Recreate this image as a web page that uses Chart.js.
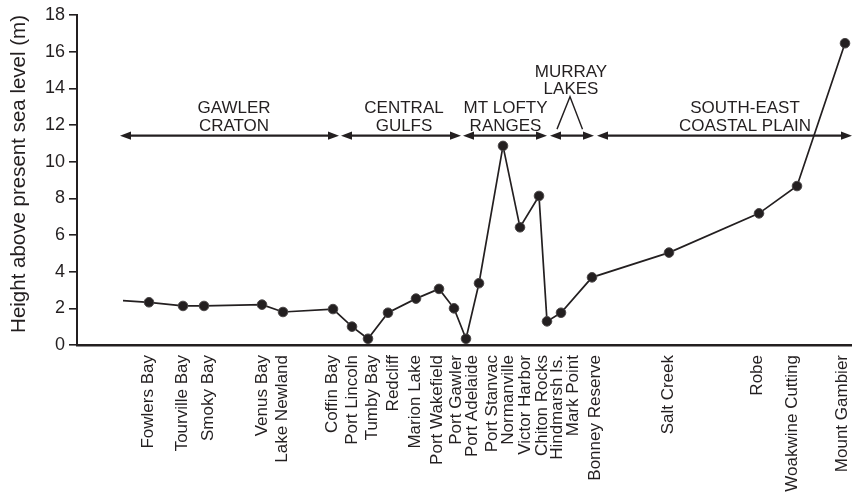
<!DOCTYPE html>
<html>
<head>
<meta charset="utf-8">
<script src="https://cdn.jsdelivr.net/npm/chart.js@4"></script>
<style>
  html, body { margin: 0; padding: 0; background: #fff; }
</style>
</head>
<body>
<canvas id="chart" width="852" height="492"></canvas>
<script>
// Stations along the coast, west to east (x = distance along the profile, arbitrary units)
const stations = [
    'Fowlers Bay', 'Tourville Bay', 'Smoky Bay', 'Venus Bay', 'Lake Newland',
    'Coffin Bay', 'Port Lincoln', 'Tumby Bay', 'Redcliff', 'Marion Lake',
    'Port Wakefield', 'Port Gawler', 'Port Adelaide', 'Port Stanvac', 'Normanville',
    'Victor Harbor', 'Chiton Rocks', 'Hindmarsh Is.', 'Mark Point', 'Bonney Reserve',
    'Salt Creek', 'Robe', 'Woakwine Cutting', 'Mount Gambier'
];
// where each station name sits on the axis
const labelX = [71, 105, 131, 185, 205, 255, 275, 295, 316, 338, 360, 379, 395, 415, 431, 448, 465, 480, 496, 518, 591, 680, 715, 765];

// profile points (first one is the unlabelled start of the trace)
const pointX = [46, 72, 106, 127, 185, 206, 256, 275, 291, 311, 339, 362, 377, 389, 402, 426, 443, 462, 470, 484, 515, 592, 682, 720, 768];
const heights = [2.42, 2.33, 2.13, 2.13, 2.2, 1.8, 1.96, 1.0, 0.34, 1.76, 2.53, 3.06, 2.0, 0.34, 3.37, 10.86, 6.42, 8.13, 1.29, 1.76, 3.69, 5.04, 7.18, 8.67, 16.46];

// geological regions shown as arrows
const regionNames = [['GAWLER', 'CRATON'], ['CENTRAL', 'GULFS'], ['MT LOFTY', 'RANGES'], ['MURRAY', 'LAKES'], ['SOUTH-EAST', 'COASTAL PLAIN']];
const regionStart = [43, 264, 386, 473, 520];
const regionEnd = [262, 384, 470, 517, 775];
const regionLabelX = [157, 327, 428.5, 494, 668];
const arrowLevel = 11.42;

const ink = '#231f20';
const family = '"Liberation Sans", Arial, Helvetica, sans-serif';

function arrowHead(ctx, x, y, dir) {
    ctx.beginPath();
    ctx.moveTo(x, y);
    ctx.lineTo(x - dir * 11, y - 4.2);
    ctx.lineTo(x - dir * 11, y + 4.2);
    ctx.closePath();
    ctx.fill();
}

const regionPlugin = {
    id: 'regions',
    afterDatasetsDraw(chart) {
        const { ctx, scales: { x, y } } = chart;
        const py = y.getPixelForValue(arrowLevel);
        ctx.save();
        ctx.strokeStyle = ink;
        ctx.fillStyle = ink;
        ctx.lineWidth = 2.2;
        ctx.font = '17px ' + family;
        ctx.textAlign = 'center';
        ctx.textBaseline = 'alphabetic';

        regionNames.forEach((lines, i) => {
            const x0 = x.getPixelForValue(regionStart[i]);
            const x1 = x.getPixelForValue(regionEnd[i]);
            ctx.beginPath();
            ctx.moveTo(x0 + 5, py);
            ctx.lineTo(x1 - 5, py);
            ctx.stroke();
            arrowHead(ctx, x0, py, -1);
            arrowHead(ctx, x1, py, 1);

            const cx = x.getPixelForValue(regionLabelX[i]);
            if (i === 3) {
                // small lake region: label sits higher with a caret pointer
                ctx.fillText(lines[0], cx, py - 59);
                ctx.fillText(lines[1], cx, py - 41.5);
                ctx.lineWidth = 1.4;
                ctx.beginPath();
                ctx.moveTo(cx - 14, py - 6.5);
                ctx.lineTo(cx - 1, py - 39);
                ctx.lineTo(cx + 11.5, py - 6.5);
                ctx.stroke();
                ctx.lineWidth = 2.2;
            } else {
                ctx.fillText(lines[0], cx, py - 22.5);
                ctx.fillText(lines[1], cx, py - 4.5);
            }
        });
        ctx.restore();
    }
};

new Chart(document.getElementById('chart'), {
    type: 'line',
    data: {
        datasets: [{
            data: pointX.map((px, i) => ({ x: px, y: heights[i] })),
            borderColor: ink,
            borderWidth: 1.7,
            tension: 0,
            fill: false,
            clip: false,
            pointRadius: ctx => ctx.dataIndex === 0 ? 0 : 4.8,
            pointBackgroundColor: ink,
            pointBorderColor: '#4a4647',
            pointBorderWidth: 1
        }]
    },
    options: {
        responsive: false,
        animation: false,
        layout: { autoPadding: false, padding: { top: 15, right: 0, bottom: 0, left: 0 } },
        plugins: {
            legend: { display: false },
            tooltip: { enabled: false }
        },
        scales: {
            x: {
                type: 'linear',
                min: 0,
                max: 775,
                grid: { display: false },
                border: { display: true, color: ink, width: 2.6 },
                afterBuildTicks: scale => {
                    scale.ticks = labelX.map(v => ({ value: v }));
                },
                afterFit: scale => {
                    scale.height = 147;
                    scale.paddingLeft = 0;
                    scale.paddingRight = 0;
                },
                ticks: {
                    autoSkip: false,
                    minRotation: 90,
                    maxRotation: 90,
                    padding: 2,
                    color: ink,
                    font: { size: 17, family: family },
                    callback: (value, index) => stations[index]
                }
            },
            y: {
                min: 0,
                max: 18,
                afterFit: scale => { scale.width = 77; },
                grid: { display: true, drawOnChartArea: false, drawTicks: true, tickLength: 8, color: ink, lineWidth: 1.6 },
                border: { display: true, color: ink, width: 2 },
                ticks: {
                    stepSize: 2,
                    padding: 4,
                    color: ink,
                    font: { size: 18, family: family }
                },
                title: {
                    display: true,
                    align: 'end',
                    text: 'Height above present sea level (m)',
                    color: ink,
                    font: { size: 20.5, family: family },
                    padding: { top: 7, bottom: 0 }
                }
            }
        }
    },
    plugins: [regionPlugin]
});
</script>
</body>
</html>
